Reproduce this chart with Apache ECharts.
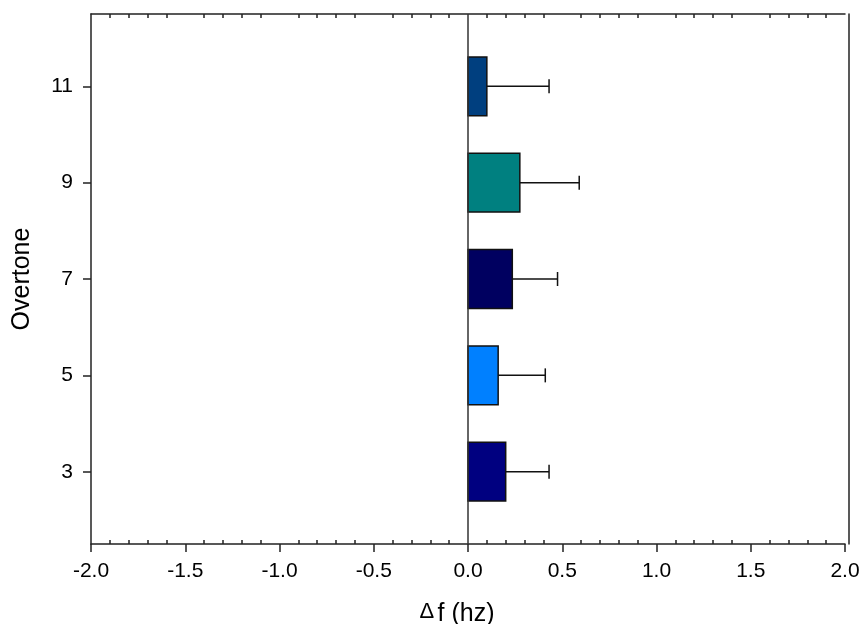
<!DOCTYPE html>
<html>
<head>
<meta charset="utf-8">
<script src="https://cdn.jsdelivr.net/npm/echarts@6/dist/echarts.min.js"></script>
<style>
  html, body { margin: 0; padding: 0; background: #fff; }
  #chart { width: 860px; height: 624px; }
</style>
</head>
<body>
<div id="chart"></div>
<script>
// Frequency shift per overtone, with upper error
const overtones = [3, 5, 7, 9, 11];
const deltaF = [0.20, 0.16, 0.235, 0.275, 0.10];
const deltaFErr = [0.23, 0.25, 0.24, 0.315, 0.33];
const overtoneTicks = [3, 5, 7, 9, 11];

const barColors = ['#000080', '#0080FF', '#000060', '#008080', '#003F7F'];
const BAR_HEIGHT = 1.22;   // in overtone units
const CAP_HALF = 7;        // px
const FONT = '"Liberation Sans", Arial, sans-serif';
const AXIS_COLOR = '#222';

const barData = overtones.map((o, i) => [deltaF[i], o, deltaFErr[i]]);

const chart = echarts.init(document.getElementById('chart'), null, { renderer: 'canvas' });

const baseX = {
  type: 'value', min: -2, max: 2, interval: 0.5,
  splitLine: { show: false }
};

chart.setOption({
  animation: false,
  backgroundColor: '#fff',
  grid: { left: 91, right: 15, top: 14, bottom: 80, containLabel: false, outerBoundsMode: 'none' },
  xAxis: [
    Object.assign({}, baseX, {
      position: 'bottom',
      name: '{d|Δ} {t|f (hz)}',
      nameLocation: 'middle',
      nameGap: 57,
      nameTextStyle: {
        padding: [0, 22, 0, 0],
        rich: {
          d: { fontFamily: FONT, fontSize: 22, color: '#000', padding: [0, 0, 4, 0] },
          t: { fontFamily: FONT, fontSize: 25, color: '#000' }
        }
      },
      axisLine: { show: true, onZero: false, lineStyle: { color: AXIS_COLOR, width: 1.5 } },
      axisTick: { show: true, inside: false, length: 8, lineStyle: { color: AXIS_COLOR, width: 1.5 } },
      axisLabel: {
        fontFamily: FONT, fontSize: 21, color: '#000', margin: 17,
        formatter: v => v.toFixed(1)
      }
    }),
    // inner minor ticks along the bottom edge
    Object.assign({}, baseX, {
      position: 'bottom',
      axisLine: { show: false, onZero: false },
      axisTick: { show: false, inside: true },
      axisLabel: { show: false },
      minorTick: { show: true, splitNumber: 5, length: 4, lineStyle: { color: AXIS_COLOR, width: 1.5 } }
    }),
    // top frame with inner minor ticks
    Object.assign({}, baseX, {
      position: 'top',
      axisLine: { show: true, onZero: false, lineStyle: { color: AXIS_COLOR, width: 1.5 } },
      axisTick: { show: false, inside: true },
      axisLabel: { show: false },
      minorTick: { show: true, splitNumber: 5, length: 4, lineStyle: { color: AXIS_COLOR, width: 1.5 } }
    })
  ],
  yAxis: [
    {
      type: 'value', min: 1.5, max: 12.5, position: 'left',
      name: 'Overtone',
      nameLocation: 'middle',
      nameGap: 56,
      nameTextStyle: { fontFamily: FONT, fontSize: 25, color: '#000' },
      splitLine: { show: false },
      axisLine: { show: true, onZero: false, lineStyle: { color: AXIS_COLOR, width: 1.5 } },
      axisTick: { show: true, inside: false, length: 8, customValues: overtoneTicks, lineStyle: { color: AXIS_COLOR, width: 1.5 } },
      axisLabel: { fontFamily: FONT, fontSize: 21, color: '#000', margin: 18, customValues: overtoneTicks }
    },
    {
      type: 'value', min: 1.5, max: 12.5, position: 'right', offset: 4,
      splitLine: { show: false },
      axisLine: { show: true, onZero: false, lineStyle: { color: AXIS_COLOR, width: 1.5 } },
      axisTick: { show: false },
      axisLabel: { show: false }
    }
  ],
  series: [
    {
      type: 'custom',
      name: 'Δf',
      xAxisIndex: 0, yAxisIndex: 0,
      encode: { x: 0, y: 1 },
      data: barData,
      renderItem: (params, api) => {
        const v = api.value(0), y = api.value(1);
        const p0 = api.coord([0, y + BAR_HEIGHT / 2]);
        const p1 = api.coord([v, y - BAR_HEIGHT / 2]);
        return {
          type: 'rect',
          shape: { x: p0[0], y: p0[1], width: p1[0] - p0[0], height: p1[1] - p0[1] },
          style: { fill: barColors[params.dataIndex], stroke: '#111', lineWidth: 1.5 }
        };
      },
      markLine: {
        silent: true, symbol: 'none', label: { show: false },
        lineStyle: { color: '#333', width: 1.5, type: 'solid' },
        data: [{ xAxis: 0 }]
      },
      z: 3
    },
    {
      type: 'custom',
      name: 'error',
      xAxisIndex: 0, yAxisIndex: 0,
      encode: { x: 0, y: 1 },
      data: barData,
      renderItem: (params, api) => {
        const v = api.value(0), y = api.value(1), e = api.value(2);
        const a = api.coord([v, y]);
        const b = api.coord([v + e, y]);
        const st = { stroke: '#111', lineWidth: 1.5 };
        return {
          type: 'group',
          children: [
            { type: 'line', shape: { x1: a[0], y1: a[1], x2: b[0], y2: b[1] }, style: st },
            { type: 'line', shape: { x1: b[0], y1: b[1] - CAP_HALF, x2: b[0], y2: b[1] + CAP_HALF }, style: st }
          ]
        };
      },
      z: 2
    }
  ]
});
</script>
</body>
</html>
